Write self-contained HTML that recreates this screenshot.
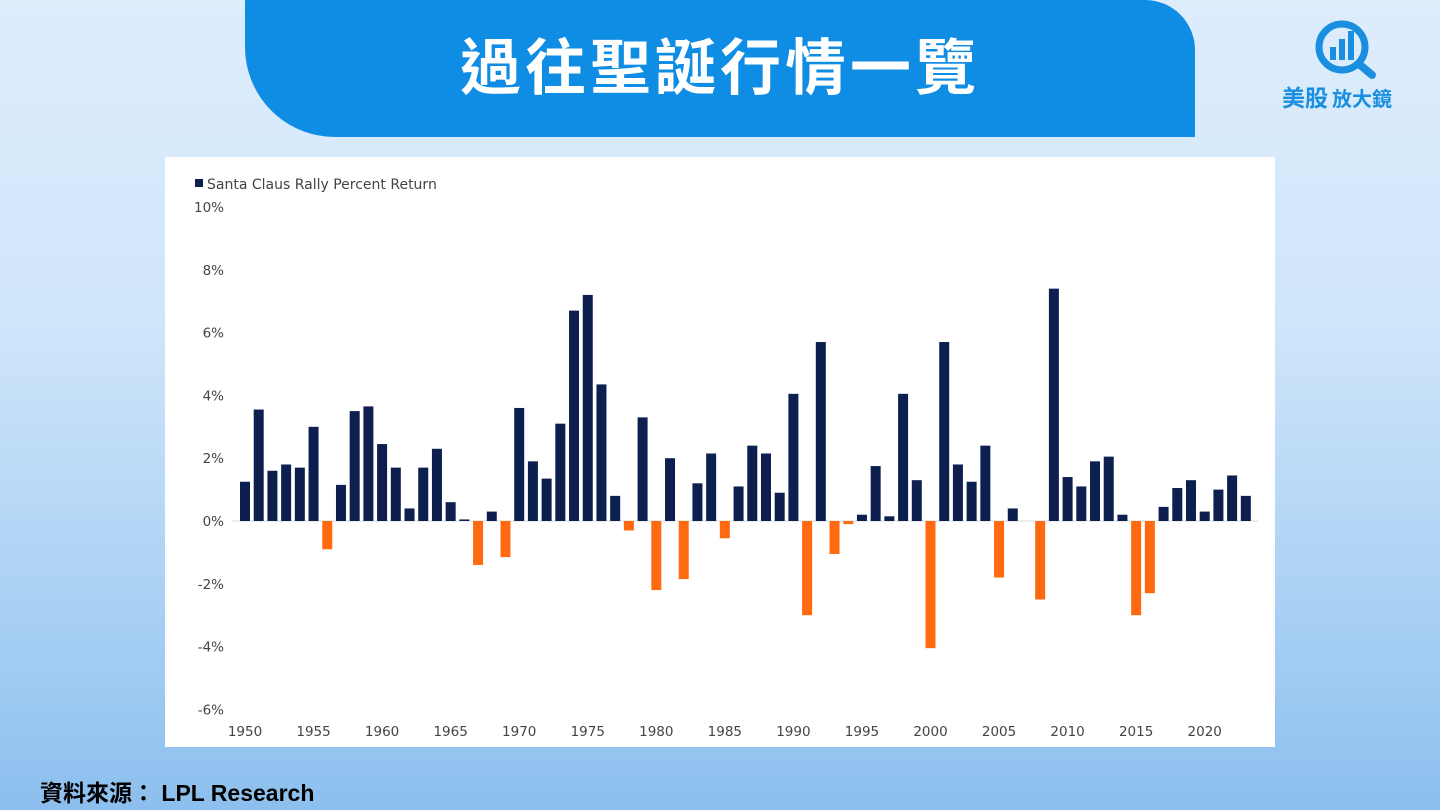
<!DOCTYPE html>
<html><head><meta charset="utf-8">
<style>
body{margin:0;width:1440px;height:810px;overflow:hidden;font-family:"Liberation Sans","Noto Sans CJK TC",sans-serif;
background:linear-gradient(180deg,#deedfc 0%,#cfe5fa 40%,#a9d0f4 75%,#8cbfee 100%);position:relative}
#banner{position:absolute;left:245px;top:0;width:950px;height:137px;background:#0f8ce3;border-radius:0 50px 0 90px}
#title{position:absolute;left:245px;top:18px;width:950px;text-align:center;color:#fff;font-size:61px;font-weight:bold;letter-spacing:4px;font-family:"Noto Sans CJK TC","WenQuanYi Zen Hei",sans-serif}
#panel{position:absolute;left:165px;top:157px;width:1110px;height:590px;background:#fff}
#source{position:absolute;left:40px;top:774px;font-size:23px;font-weight:bold;color:#000;font-family:"Liberation Sans","Noto Sans CJK TC",sans-serif}
#logo{position:absolute;left:1276px;top:14px;width:140px;height:100px}
</style></head><body>
<div id="banner"></div>
<div id="title">過往聖誕行情一覽</div>
<svg id="logo" viewBox="0 0 140 100">
<circle cx="66" cy="33" r="23" fill="none" stroke="#1a8fe0" stroke-width="7"/>
<line x1="83" y1="50" x2="96" y2="61" stroke="#1a8fe0" stroke-width="8" stroke-linecap="round"/>
<rect x="54" y="33" width="6" height="13" fill="#1a8fe0"/><rect x="63" y="25" width="6" height="21" fill="#1a8fe0"/><rect x="72" y="17" width="6" height="29" fill="#1a8fe0"/>
<text x="6" y="92" font-size="23" font-weight="bold" fill="#1a8fe0" font-family="Noto Sans CJK TC,sans-serif">美股</text>
<text x="56" y="92" font-size="20" font-weight="bold" fill="#1a8fe0" font-family="Noto Sans CJK TC,sans-serif">放大鏡</text>
</svg>
<div id="panel"></div>
<svg id="chart" width="1440" height="810" style="position:absolute;left:0;top:0"></svg>
<div id="source">資料來源： LPL Research</div>
<script>
const years=[];for(let y=1950;y<=2023;y++)years.push(y);
const values=[1.25,3.55,1.6,1.8,1.7,3.0,-0.9,1.15,3.5,3.65,
2.45,1.7,0.4,1.7,2.3,0.6,0.05,-1.4,0.3,-1.15,
3.6,1.9,1.35,3.1,6.7,7.2,4.35,0.8,-0.3,3.3,
-2.2,2.0,-1.85,1.2,2.15,-0.55,1.1,2.4,2.15,0.9,
4.05,-3.0,5.7,-1.05,-0.1,0.2,1.75,0.15,4.05,1.3,
-4.05,5.7,1.8,1.25,2.4,-1.8,0.4,0,-2.5,7.4,
1.4,1.1,1.9,2.05,0.2,-3.0,-2.3,0.45,1.05,1.3,
0.3,1.0,1.45,0.8];
const yTicks=[10,8,6,4,2,0,-2,-4,-6];
const xTicks=[1950,1955,1960,1965,1970,1975,1980,1985,1990,1995,2000,2005,2010,2015,2020];
const NS="http://www.w3.org/2000/svg";
const svg=document.getElementById('chart');
const X=y=>245+(y-1950)*13.71;
const Y=v=>521-v*31.4;
function mk(t,a){const e=document.createElementNS(NS,t);for(const k in a)e.setAttribute(k,a[k]);svg.appendChild(e);return e;}
yTicks.forEach(v=>{const t=mk('text',{x:224,y:Y(v)+5,'text-anchor':'end','font-size':13.5,fill:'#444','font-family':'DejaVu Sans,sans-serif'});t.textContent=v+'%';

});
xTicks.forEach(v=>{const t=mk('text',{x:X(v),y:736,'text-anchor':'middle','font-size':13.5,fill:'#444','font-family':'DejaVu Sans,sans-serif'});t.textContent=v;

});
const ax=mk('line',{x1:232,x2:1258,y1:Y(0),y2:Y(0),stroke:'#d9d9d9','stroke-width':1});


years.forEach((yr,i)=>{const v=values[i];const y0=Y(0),y1=Y(v);
const r=mk('rect',{x:X(yr)-5,y:Math.min(y0,y1),width:10,height:Math.abs(y1-y0),fill:v>=0?'#0d1f4f':'#ff6a10'});

});
const lg=mk('rect',{x:195,y:179,width:8,height:8,fill:'#0d1f4f'});


const lt=mk('text',{x:207,y:189,'font-size':14,fill:'#444','font-family':'DejaVu Sans,sans-serif'});lt.textContent='Santa Claus Rally Percent Return';


</script>
</body></html>
